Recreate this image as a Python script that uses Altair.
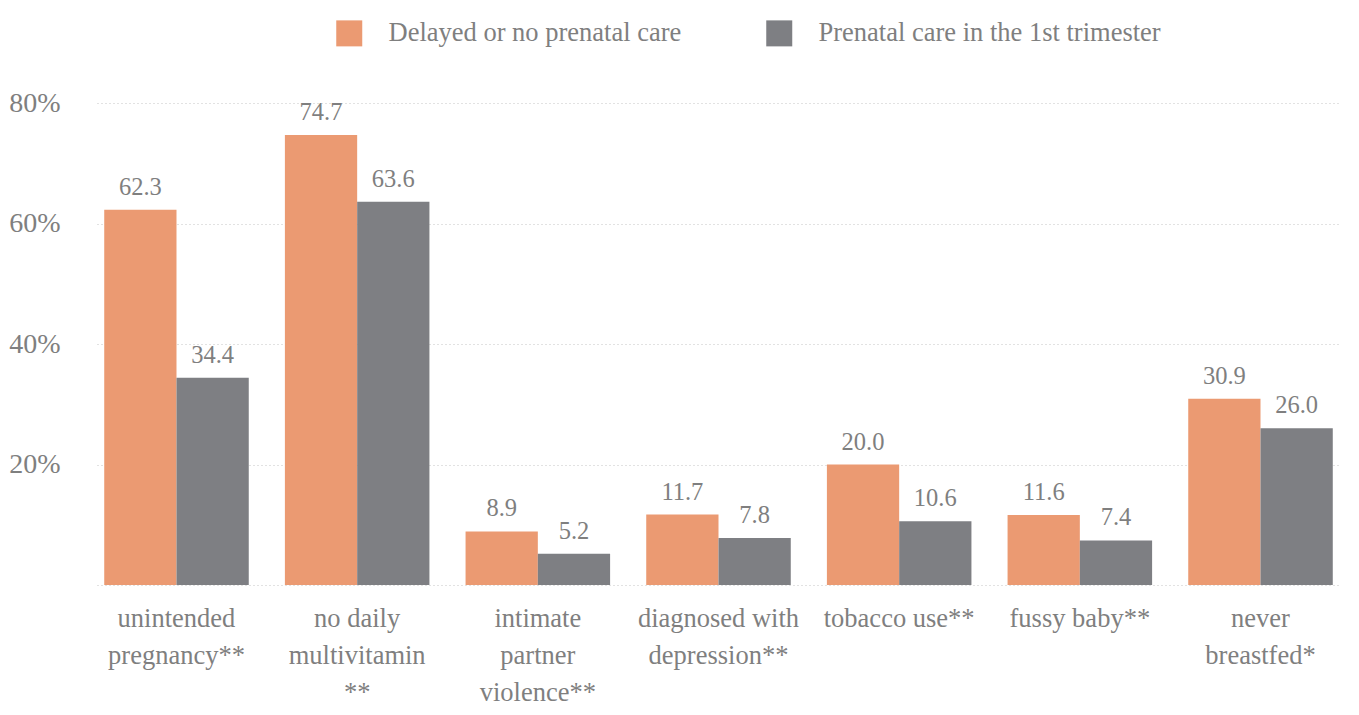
import altair as alt
import pandas as pd

categories = [
    "unintended|pregnancy**",
    "no daily|multivitamin|**",
    "intimate|partner|violence**",
    "diagnosed with|depression**",
    "tobacco use**",
    "fussy baby**",
    "never|breastfed*",
]
series = ["Delayed or no prenatal care", "Prenatal care in the 1st trimester"]
delayed = [62.3, 74.7, 8.9, 11.7, 20.0, 11.6, 30.9]
first_tri = [34.4, 63.6, 5.2, 7.8, 10.6, 7.4, 26.0]
colors = ["#EB9A72", "#7E7F83"]
y_ticks = [0, 20, 40, 60, 80]

rows = []
for c, a, b in zip(categories, delayed, first_tri):
    rows.append({"cat": c, "series": series[0], "value": a, "label": f"{a:.1f}"})
    rows.append({"cat": c, "series": series[1], "value": b, "label": f"{b:.1f}"})
df = pd.DataFrame(rows)

FONT = "Liberation Serif, Times New Roman, serif"
TXT = "#7f7f7f"

x = alt.X("cat:N", sort=categories, title=None,
          scale=alt.Scale(paddingInner=0.2, paddingOuter=0.04),
          axis=alt.Axis(labelExpr="split(datum.label, '|')", labelAngle=0,
                        labelFontSize=26.5, labelFont=FONT, labelColor=TXT,
                        labelLineHeight=37, labelPadding=20, labelBaseline="top",
                        domain=False, ticks=False, labelLimit=400))
xo = alt.XOffset("series:N", sort=series)

y = alt.Y("value:Q", title=None,
          scale=alt.Scale(domain=[0, 80], nice=False),
          axis=alt.Axis(values=y_ticks, labelExpr="datum.value == 0 ? '' : datum.value + '%'",
                        labelFontSize=28, labelFont=FONT, labelColor=TXT,
                        labelPadding=37, domain=False, ticks=False,
                        grid=True, gridDash=[1, 3], gridColor="#c4c4c4", gridWidth=1))

bars = alt.Chart(df).mark_bar().encode(
    x=x, xOffset=xo, y=y,
    color=alt.Color("series:N", sort=series,
                    scale=alt.Scale(domain=series, range=colors),
                    legend=alt.Legend(title=None, orient="none", direction="horizontal",
                                      legendX=239, legendY=-83,
                                      symbolType="square", symbolSize=676,
                                      symbolStrokeWidth=0, symbolOpacity=1,
                                      labelFontSize=26.5, labelFont=FONT, labelColor=TXT,
                                      labelOffset=26, columnPadding=84,
                                      labelLimit=500)),
)

text = alt.Chart(df).mark_text(baseline="bottom", dy=-10, fontSize=24.5, font=FONT, color=TXT).encode(
    x=alt.X("cat:N", sort=categories), xOffset=xo, y="value:Q", text="label:N"
)

chart = (bars + text).properties(
    width=1243, height=482,
    padding={"left": 89, "top": 95, "right": 11, "bottom": 122},
    autosize=alt.AutoSizeParams(type="none"),
    background="white",
).configure_view(strokeWidth=0, stroke=None)

chart.save("out.html", embed_options={"renderer": "svg", "actions": False})
